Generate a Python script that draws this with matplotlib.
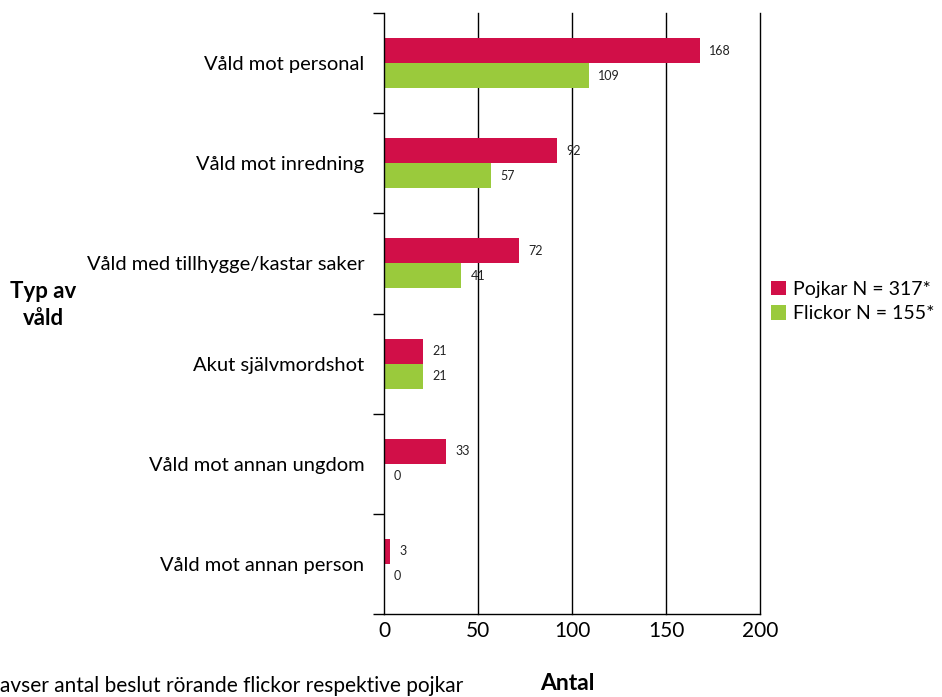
import numpy as np
import matplotlib.pyplot as plt

plt.rcParams["font.family"] = ["Lato", "DejaVu Sans"]

# ---------------------------------------------------------------------------
# Data
# ---------------------------------------------------------------------------
categories = [
    "Våld mot personal",
    "Våld mot inredning",
    "Våld med tillhygge/kastar saker",
    "Akut självmordshot",
    "Våld mot annan ungdom",
    "Våld mot annan person",
]
pojkar = [168, 92, 72, 21, 33, 3]
flickor = [109, 57, 41, 21, 0, 0]
series_labels = ["Pojkar N = 317*", "Flickor N = 155*"]
x_ticks = [0, 50, 100, 150, 200]

RED = "#D10F48"
GREEN = "#9ACA3C"

# ---------------------------------------------------------------------------
# Plot
# ---------------------------------------------------------------------------
fig = plt.figure(figsize=(9.42, 6.97), dpi=100)
ax = fig.add_axes([0.4076, 0.1191, 0.3992, 0.8622])

y = np.arange(len(categories))
h = 0.25
b1 = ax.barh(y - h / 2, pojkar, height=h, color=RED, label=series_labels[0])
b2 = ax.barh(y + h / 2, flickor, height=h, color=GREEN, label=series_labels[1])

for bars, vals in ((b1, pojkar), (b2, flickor)):
    for bar, v in zip(bars, vals):
        ax.text(v + 5, bar.get_y() + bar.get_height() / 2, str(v),
                va="center", ha="left", fontsize=9, color="#222222")

ax.set_xlim(0, 200)
ax.set_ylim(len(categories) - 0.5, -0.5)
ax.set_xticks(x_ticks)
ax.set_xticklabels([str(t) for t in x_ticks], fontsize=15)
ax.tick_params(axis="x", length=0, pad=5)

ax.set_yticks(np.arange(-0.5, len(categories)), minor=False)
ax.set_yticklabels([])
ax.tick_params(axis="y", which="major", length=8, width=1, direction="out")
ax.set_yticks(y, minor=True)
ax.set_yticklabels(categories, minor=True, fontsize=14.5)
ax.tick_params(axis="y", which="minor", length=0, pad=14)

for t in x_ticks[1:]:
    ax.axvline(t, color="black", linewidth=1, zorder=0, clip_on=False)

for side in ("top", "right"):
    ax.spines[side].set_visible(False)
ax.spines["left"].set_linewidth(1)
ax.spines["bottom"].set_linewidth(1)

fig.text(43 / 942, 1 - 305 / 697, "Typ av\nvåld", ha="center", va="center",
         fontsize=16, fontweight="bold", linespacing=1.3)

ax.legend(loc="center left", bbox_to_anchor=(1.03, 0.52), frameon=False,
          fontsize=14, handlelength=0.75, handleheight=0.75, handletextpad=0.35,
          labelspacing=0.4, borderaxespad=0, borderpad=0)

fig.text(0.0, 1 - 686 / 697, "avser antal beslut rörande flickor respektive pojkar",
         ha="left", va="center", fontsize=15)
fig.text(540 / 942, 1 - 684 / 697, "Antal", ha="left", va="center",
         fontsize=16.5, fontweight="bold")

fig.savefig("out.png", dpi=100)
plt.close(fig)
